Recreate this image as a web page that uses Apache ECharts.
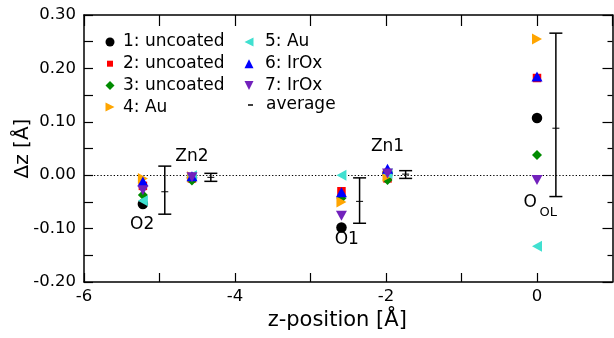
<!DOCTYPE html>
<html><head><meta charset="utf-8">
<script src="https://cdn.jsdelivr.net/npm/echarts@6/dist/echarts.min.js"></script>
<style>html,body{margin:0;padding:0;background:#fff}#c{width:614px;height:338px}</style>
</head><body><div id="c"></div>
<script>
// site positions (z-position, Å)
const siteX = [-5.22, -4.57, -2.59, -1.98, 0];
// Δz values per structure, one per site (O2, Zn2, O1, Zn1, O_OL)
const s1 = [-0.054, -0.005, -0.098, 0.004, 0.107];
const s2 = [-0.020, -0.006, -0.030, -0.006, 0.182];
const s3 = [-0.037, -0.010, -0.043, -0.009, 0.038];
const s4 = [-0.006, -0.003, -0.050, -0.002, 0.255];
const s5 = [-0.048, -0.001, 0.000, 0.003, -0.133];
const s6 = [-0.012, -0.002, -0.032, 0.012, 0.185];
const s7 = [-0.028, -0.004, -0.076, 0.003, -0.009];
// averages with error-bar ends, drawn beside each site
const avgX = [-4.93, -4.32, -2.35, -1.74, 0.25];
const avgVal = [-0.031, -0.004, -0.049, 0.002, 0.088];
const avgHigh = [0.017, 0.0035, -0.005, 0.0085, 0.266];
const avgLow = [-0.073, -0.0115, -0.090, -0.006, -0.040];
// series names
const names = ['1: uncoated', '2: uncoated', '3: uncoated', '4: Au', '5: Au', '6: IrOx', '7: IrOx'];
// annotation labels
const noteText = ['O2', 'Zn2', 'O1', 'Zn1', 'O', 'OL'];
const noteX = [-5.23, -4.57, -2.52, -1.98, -0.09, 0.15];
const noteY = [-0.092, 0.035, -0.121, 0.053, -0.052, -0.071];

const FONT = 'DejaVu Sans';
const values = [s1, s2, s3, s4, s5, s6, s7];
const colors = ['#000000', '#ff0000', '#008b00', '#ffa500', '#40e0d0', '#0000ff', '#7221bc'];
const symbols = ['circle', 'rect', 'diamond', 'triangle', 'triangle', 'triangle', 'triangle'];
const rotates = [0, 0, 0, -90, 90, 0, 180];
const sizes = [10.5, 8.5, 10, [11, 10], [11, 10], [11, 10], [11, 10]];
const legendIcons = [
  'circle',
  'path://M-1,-1M11,11M1,1H9V9H1Z',
  'path://M5,0L10,5L5,10L0,5Z',
  'path://M0,0L10,5L0,10Z',
  'path://M10,0L0,5L10,10Z',
  'path://M5,0L10,10L0,10Z',
  'path://M0,0L10,0L5,10Z'
];

const chart = echarts.init(document.getElementById('c'));
const series = values.map((vals, k) => ({
  name: names[k], type: 'scatter',
  data: siteX.map((x, i) => [x, vals[i]]),
  symbol: symbols[k], symbolRotate: rotates[k], symbolSize: sizes[k],
  itemStyle: { color: colors[k], opacity: 1 },
  z: 4 + k
}));
series[0].markLine = {
  silent: true, symbol: 'none', label: { show: false },
  lineStyle: { color: '#000', width: 1.2, type: [1.3, 2], opacity: 1 },
  data: [{ yAxis: 0 }], z: 1
};
series.push({
  name: 'average', type: 'custom',
  data: avgX.map((x, i) => [x, avgVal[i], avgLow[i], avgHigh[i]]),
  encode: { x: 0, y: 1 },
  itemStyle: { color: '#000' },
  z: 3,
  renderItem: (params, api) => {
    const x = api.value(0), m = api.value(1), lo = api.value(2), hi = api.value(3);
    const t = api.coord([x, hi]), b = api.coord([x, lo]), c = api.coord([x, m]);
    const cw = 6.5, mw = 3.5;
    const st = { stroke: '#000', lineWidth: 1.5, fill: null };
    return { type: 'group', children: [
      { type: 'line', shape: { x1: t[0], y1: t[1], x2: b[0], y2: b[1] }, style: st },
      { type: 'line', shape: { x1: t[0] - cw, y1: t[1], x2: t[0] + cw, y2: t[1] }, style: st },
      { type: 'line', shape: { x1: b[0] - cw, y1: b[1], x2: b[0] + cw, y2: b[1] }, style: st },
      { type: 'line', shape: { x1: c[0] - mw, y1: c[1], x2: c[0] + mw, y2: c[1] }, style: { stroke: '#000', lineWidth: 1, fill: null } }
    ] };
  }
});
const notes = {
  name: 'notes', type: 'scatter', silent: true, symbolSize: 0,
  itemStyle: { opacity: 1 },
  data: noteText.map((t, i) => ({ name: t, value: [noteX[i], noteY[i]] })),
  label: {
    show: true, position: [0, 0], align: 'center', verticalAlign: 'middle',
    color: '#000', fontFamily: FONT, fontSize: 17, textBorderWidth: 0, opacity: 1,
    formatter: p => p.name
  },
  z: 10
};
// subscript size for "OL"
notes.data[5].label = { fontSize: 13 };
series.push(notes);

const axisLineStyle = { color: '#000', width: 1.5 };
const tickStyle = { color: '#000', width: 1.2 };
const legendText = { fontFamily: FONT, fontSize: 17, lineHeight: 20, color: '#000' };
chart.setOption({
  animation: false,
  backgroundColor: '#fff',
  grid: { left: 84, right: 1.5, top: 15, bottom: 56, containLabel: false },
  legend: [
    { data: names.slice(0, 4).map((n, i) => ({ name: n, icon: legendIcons[i] })),
      orient: 'vertical', left: 105.5, top: 32, padding: 0, itemWidth: 9, itemHeight: 9, itemGap: 1.7,
      textStyle: Object.assign({ padding: [0, 0, 0, 3.5] }, legendText) },
    { data: names.slice(4).map((n, i) => ({ name: n, icon: legendIcons[i + 4] })),
      orient: 'vertical', left: 244.5, top: 32, padding: 0, itemWidth: 9, itemHeight: 9, itemGap: 1.7,
      textStyle: Object.assign({ padding: [0, 0, 0, 6.5] }, legendText) },
    { data: [{ name: 'average', icon: 'rect' }], orient: 'vertical', left: 248, top: 95, padding: 0,
      itemWidth: 5, itemHeight: 1.5,
      textStyle: Object.assign({ padding: [0, 0, 0, 8] }, legendText) }
  ],
  xAxis: [
    { type: 'value', position: 'bottom', min: -6, max: 1, interval: 1,
      axisLine: { show: true, onZero: false, lineStyle: axisLineStyle },
      axisTick: { show: true, inside: true, length: 9, lineStyle: tickStyle },
      axisLabel: { color: '#000', fontFamily: FONT, fontSize: 16.5, margin: 6, showMaxLabel: false,
        formatter: v => (Math.round(v) % 2 === 0 ? String(Math.round(v)) : '') },
      splitLine: { show: false },
      name: 'z-position [Å]', nameLocation: 'middle', nameGap: 25,
      nameTextStyle: { color: '#000', fontFamily: FONT, fontSize: 21, padding: [0, 22, 0, 0] } },
    { type: 'value', position: 'top', min: -6, max: 1, interval: 1,
      axisLine: { show: true, onZero: false, lineStyle: axisLineStyle },
      axisTick: { show: true, inside: true, length: 11, lineStyle: tickStyle },
      axisLabel: { show: false }, splitLine: { show: false } }
  ],
  yAxis: [
    { type: 'value', position: 'left', min: -0.2, max: 0.3, interval: 0.05,
      axisLine: { show: true, onZero: false, lineStyle: axisLineStyle },
      axisTick: { show: true, inside: true, length: 9, lineStyle: tickStyle },
      axisLabel: { color: '#000', fontFamily: FONT, fontSize: 16.5, margin: 8,
        formatter: v => (Math.abs(Math.round(v * 100)) % 10 === 0 ? v.toFixed(2) : '') },
      splitLine: { show: false },
      name: 'Δz [Å]', nameLocation: 'middle', nameGap: 51, nameRotate: 90, nameMoveOverlap: false,
      nameTextStyle: { color: '#000', fontFamily: FONT, fontSize: 20 } },
    { type: 'value', position: 'right', min: -0.2, max: 0.3, interval: 0.1,
      axisLine: { show: true, onZero: false, lineStyle: axisLineStyle },
      axisTick: { show: true, inside: true, length: 10, lineStyle: tickStyle },
      minorTick: { show: true, splitNumber: 2, length: 5, lineStyle: tickStyle },
      axisLabel: { show: false }, splitLine: { show: false } }
  ],
  series: series
});
</script>
</body></html>
